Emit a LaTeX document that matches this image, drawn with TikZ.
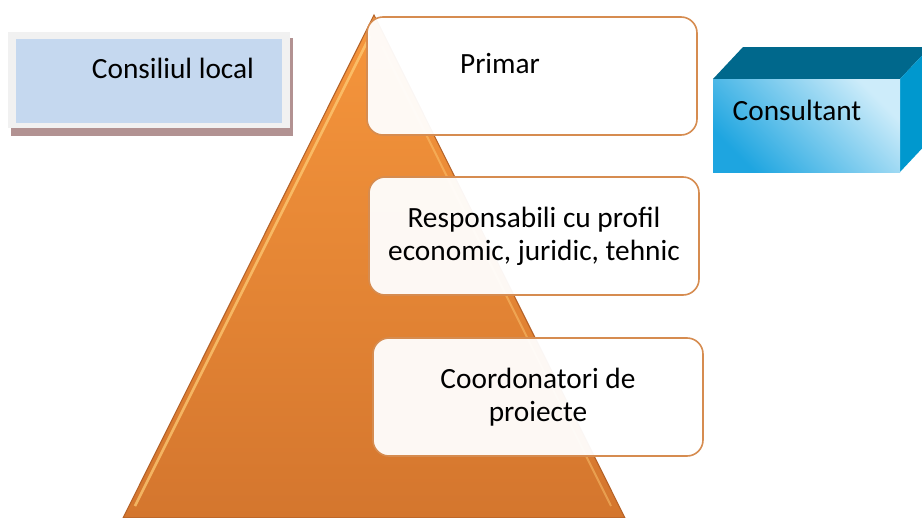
\documentclass[tikz,border=0pt]{standalone}
\usepackage{fontspec}
\setmainfont{Carlito}
\usetikzlibrary{positioning}
\definecolor{pyramidtop}{RGB}{246,150,60}
\definecolor{pyramidbottom}{RGB}{212,118,46}
\definecolor{pyramidedge}{RGB}{180,98,40}
\definecolor{pyramidshine}{RGB}{255,206,120}
\definecolor{boxedge}{RGB}{214,140,80}
\definecolor{councilblue}{RGB}{197,216,239}
\definecolor{councilframe}{RGB}{241,241,241}
\definecolor{councilshadow}{RGB}{178,146,146}
\definecolor{cubetop}{RGB}{0,104,140}
\definecolor{cubeside}{RGB}{0,152,206}
\definecolor{cubelight}{RGB}{205,236,250}
\definecolor{cubedark}{RGB}{30,165,224}

\begin{document}
\begin{tikzpicture}[x=0.75pt, y=-0.75pt,
    level/.style={draw=boxedge, line width=1.2pt, rounded corners=12pt, fill=white, fill opacity=0.95, text opacity=1,
        minimum width=247.5pt, minimum height=88.5pt, align=center, font=\fontsize{22}{25}\selectfont},
    boxtext/.style={font=\fontsize{22}{25}\selectfont, align=center, inner sep=0pt}
]
\useasboundingbox (0,0) rectangle (922,518);
\clip (0,0) rectangle (922,518);

% Pyramid
\draw[top color=pyramidtop, bottom color=pyramidbottom, draw=pyramidedge, line width=0.8pt]
    (123,518) -- (374,15) -- (625,518) -- cycle;
\draw[pyramidshine, line width=2pt, opacity=0.7] (135,506) -- (370,36);
\draw[pyramidshine, line width=1.5pt, opacity=0.45] (611,506) -- (382,46);

% Hierarchy levels
\node[level] (primar) at (532,76) {};
\node[boxtext] (primartext) at (500,64) {Primar};
\node[level] (responsabili) at (534,236) {Responsabili cu profil\\economic, juridic, tehnic};
\node[level] (coordonatori) at (538,397) {Coordonatori de\\proiecte};

% Local council
\fill[councilshadow] (11,38) rectangle (293,136);
\node[fill=councilframe, minimum width=211.5pt, minimum height=72pt, inner sep=0pt] (consiliu) at (149,80) {};
\fill[councilblue] (16,39) rectangle (282,123);
\node[boxtext] (consiliutext) at (173,68) {Consiliul local};

% Consultant
\fill[cubetop] (713,79) -- (743,47) -- (930,47) -- (900,79) -- cycle;
\fill[cubeside] (900,79) -- (930,47) -- (930,140) -- (900,172) -- cycle;
\node[top color=cubelight, bottom color=cubedark, shading angle=-45, minimum width=140.25pt, minimum height=69.75pt, inner sep=0pt] (consultant) at (806.5,125.5) {};
\node[boxtext] (consultanttext) at (797,110) {Consultant};

\end{tikzpicture}
\end{document}
